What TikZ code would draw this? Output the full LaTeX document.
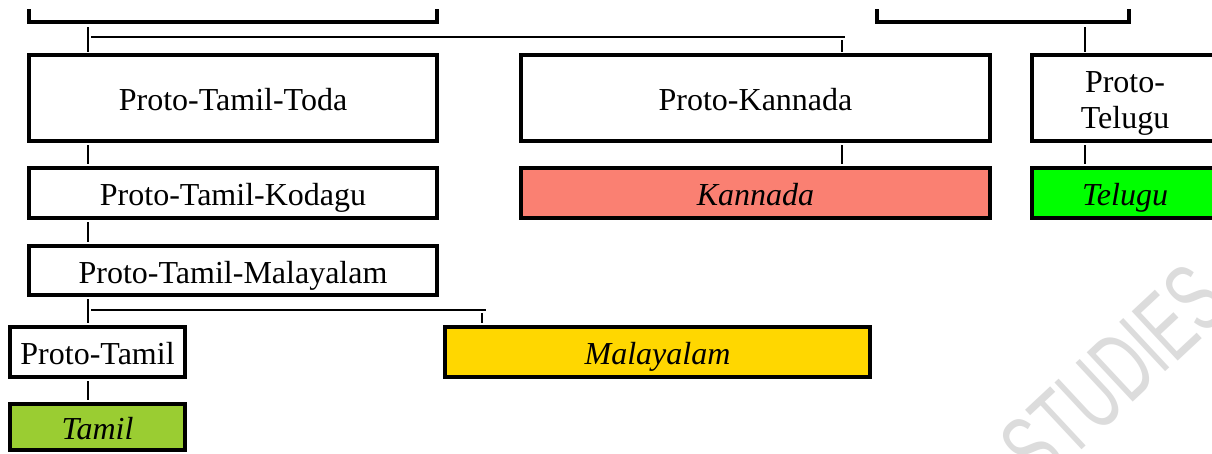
\documentclass[tikz,border=0pt]{standalone}
\usepackage{fontspec}
\setmainfont{Liberation Serif}
\newfontfamily\wmfont{Liberation Sans}
\usetikzlibrary{calc}
\definecolor{salmonc}{RGB}{250,128,114}
\definecolor{limec}{RGB}{0,255,0}
\definecolor{goldc}{RGB}{255,215,0}
\definecolor{ygreen}{RGB}{154,205,50}
\definecolor{wmgray}{RGB}{220,220,220}
\begin{document}
\begin{tikzpicture}[x=1pt,y=-1pt,
  box/.style={draw, line width=3.6pt, rectangle, inner sep=0pt, outer sep=0pt,
    font=\fontsize{32}{36}\selectfont, text height=25pt, text depth=0pt},
  conn/.style={line width=1.7pt},
  bracket/.style={line width=3.6pt},
]
\clip (0,0) rectangle (1212,453);
\fill[white] (0,0) rectangle (1212,453);
% watermark
\node[rotate=43, text=wmgray, inner sep=0pt, font=\wmfont\fontsize{98}{98}\selectfont] (wm) at (1114,374) {\scalebox{0.62}[1]{STUDIES}};
% brackets (bottoms of parent boxes)
\draw[bracket] (29,9) -- (29,22) -- (437,22) -- (437,9);
\draw[bracket] (877,9) -- (877,22) -- (1129,22) -- (1129,9);
\coordinate (lbr) at (88,22);
\coordinate (rbr) at (1085,22);
\coordinate (cL) at (88,0);
\coordinate (cK) at (842,0);
\coordinate (cM) at (482,0);
% boxes
\node[box, minimum width=408, minimum height=86] (ptt) at (233,98) {Proto-Tamil-Toda};
\node[box, minimum width=469, minimum height=86] (pk) at (755.5,98) {Proto-Kannada};
\node[box, minimum width=186, minimum height=86, text height=, text depth=] (ptel) at (1125,98)
  {\raisebox{-5pt}[\height][\depth]{\begin{tabular}{@{}c@{}}Proto-\\Telugu\end{tabular}}};
\node[box, minimum width=408, minimum height=50] (ptk) at (233,193) {Proto-Tamil-Kodagu};
\node[box, fill=salmonc, minimum width=469, minimum height=50] (kan) at (755.5,193) {\itshape Kannada};
\node[box, fill=limec, minimum width=186, minimum height=50] (tel) at (1125,193) {\itshape Telugu};
\node[box, minimum width=408, minimum height=49] (ptm) at (233,270.5) {Proto-Tamil-Malayalam};
\node[box, minimum width=175, minimum height=50] (pt) at (97.5,352) {Proto-Tamil};
\node[box, fill=goldc, minimum width=425, minimum height=50] (mal) at (657.5,352) {\itshape Malayalam};
\node[box, fill=ygreen, minimum width=175, minimum height=46] (tam) at (97.5,427) {\itshape Tamil};
% connectors
\draw[conn] ($(lbr)+(0,5)$) -- ($(ptt.north -| cL)+(0,-3)$);
\draw[conn] ($(lbr)+(3,15)$) -- ($(cK |- lbr)+(3,15)$);
\draw[conn] ($(cK |- lbr)+(0,18)$) -- ($(pk.north -| cK)+(0,-3)$);
\draw[conn] ($(rbr)+(0,5)$) -- ($(ptel.north -| rbr)+(0,-3)$);
\draw[conn] ($(ptt.south -| cL)+(0,4)$) -- ($(ptk.north -| cL)+(0,-4)$);
\draw[conn] ($(pk.south -| cK)+(0,4)$) -- ($(kan.north -| cK)+(0,-4)$);
\draw[conn] ($(ptel.south -| rbr)+(0,4)$) -- ($(tel.north -| rbr)+(0,-4)$);
\draw[conn] ($(ptk.south -| cL)+(0,4)$) -- ($(ptm.north -| cL)+(0,-4)$);
\draw[conn] ($(ptm.south -| cL)+(0,4)$) -- ($(pt.north -| cL)+(0,-4)$);
\draw[conn] ($(ptm.south -| cL)+(3,15)$) -- ($(ptm.south -| cM)+(4,15)$);
\draw[conn] ($(ptm.south -| cM)+(0,18)$) -- ($(mal.north -| cM)+(0,-4)$);
\draw[conn] ($(pt.south -| cL)+(0,4)$) -- ($(tam.north -| cL)+(0,-4)$);
\end{tikzpicture}
\end{document}
